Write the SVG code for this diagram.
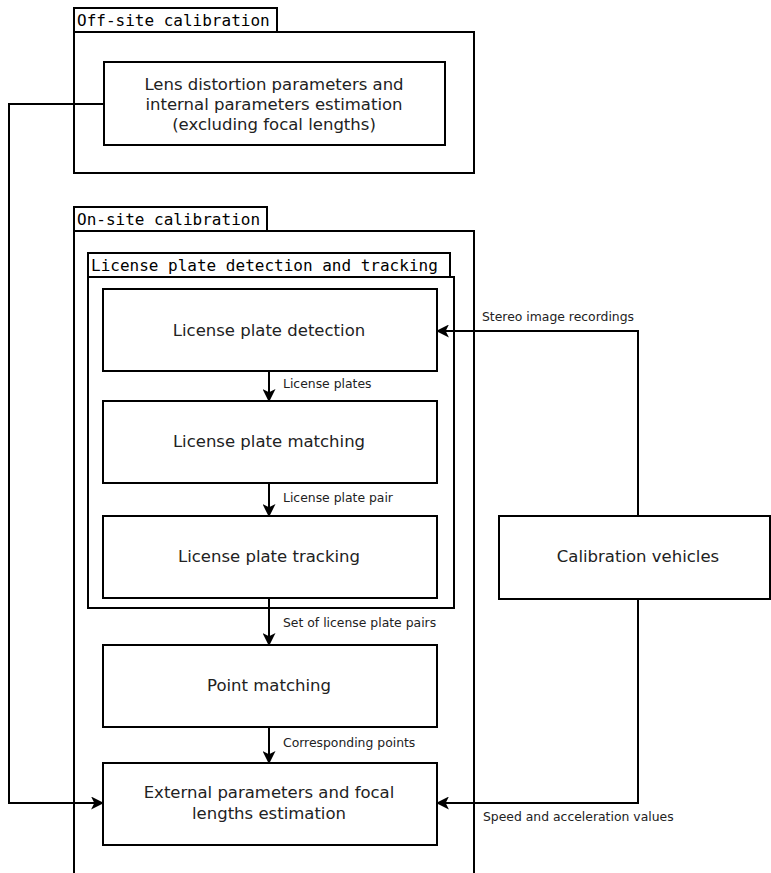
<svg xmlns="http://www.w3.org/2000/svg" width="771" height="873" viewBox="0 0 771 873">
<style>
.box{fill:#fff;stroke:#000;stroke-width:2}
.frame{fill:none;stroke:#000;stroke-width:2}
.lbl{font-family:"DejaVu Sans Mono","Liberation Mono",monospace;font-size:16px;fill:#000}
.node{font-family:"DejaVu Sans","Liberation Sans",sans-serif;font-size:16.5px;fill:#222;text-anchor:middle}
.small{font-family:"DejaVu Sans","Liberation Sans",sans-serif;font-size:12.4px;fill:#222}
.conn{fill:none;stroke:#000;stroke-width:2}
</style>
<defs>
<marker id="ah" viewBox="0 0 12 12" refX="11" refY="6" markerWidth="13" markerHeight="13" markerUnits="userSpaceOnUse" orient="auto">
<path d="M0,0 L12,6 L0,12 L3,6 z" fill="#000"/>
</marker>
</defs>
<rect width="771" height="873" fill="#fff"/>
<g id="offsite">
<rect class="box" x="74" y="32" width="400" height="141"/>
<rect class="box" x="74" y="8" width="203" height="24"/>
<text class="lbl" x="77" y="26">Off-site calibration</text>
</g>
<g id="onsite">
<path class="frame" d="M74,880 V231 H474 V880"/>
<rect class="box" x="74" y="207" width="193" height="24"/>
<text class="lbl" x="77" y="225">On-site calibration</text>
</g>
<g id="lpgroup">
<rect class="box" x="88" y="277" width="366" height="331"/>
<rect class="box" x="88" y="253" width="362" height="24"/>
<text class="lbl" x="91" y="271">License plate detection and tracking</text>
</g>
<g id="lens">
<rect class="box" x="104" y="62" width="341" height="83"/>
<text class="node" x="274" y="90">Lens distortion parameters and</text>
<text class="node" x="274" y="110">internal parameters estimation</text>
<text class="node" x="274" y="130">(excluding focal lengths)</text>
</g>
<g id="detection">
<rect class="box" x="103" y="289" width="334" height="82"/>
<text class="node" x="269" y="336">License plate detection</text>
</g>
<g id="matching">
<rect class="box" x="103" y="401" width="334" height="82"/>
<text class="node" x="269" y="447">License plate matching</text>
</g>
<g id="tracking">
<rect class="box" x="103" y="516" width="334" height="82"/>
<text class="node" x="269" y="562">License plate tracking</text>
</g>
<g id="pointmatching">
<rect class="box" x="103" y="645" width="334" height="82"/>
<text class="node" x="269" y="691">Point matching</text>
</g>
<g id="external">
<rect class="box" x="103" y="763" width="334" height="82"/>
<text class="node" x="269" y="798">External parameters and focal</text>
<text class="node" x="269" y="819">lengths estimation</text>
</g>
<g id="vehicles">
<rect class="box" x="499" y="516" width="271" height="83"/>
<text class="node" x="638" y="562">Calibration vehicles</text>
</g>
<g id="connectors">
<path class="conn" d="M269,371 V401" marker-end="url(#ah)"/>
<path class="conn" d="M269,483 V516" marker-end="url(#ah)"/>
<path class="conn" d="M269,598 V645" marker-end="url(#ah)"/>
<path class="conn" d="M269,727 V763" marker-end="url(#ah)"/>
<path class="conn" d="M638,516 V331 H437" marker-end="url(#ah)"/>
<path class="conn" d="M638,599 V803 H437" marker-end="url(#ah)"/>
<path class="conn" d="M104,104 H9 V803 H103" marker-end="url(#ah)"/>
<text class="small" x="283" y="388">License plates</text>
<text class="small" x="283" y="502">License plate pair</text>
<text class="small" x="283" y="627">Set of license plate pairs</text>
<text class="small" x="283" y="747">Corresponding points</text>
<text class="small" x="482" y="321">Stereo image recordings</text>
<text class="small" x="483" y="821">Speed and acceleration values</text>
</g>
</svg>
